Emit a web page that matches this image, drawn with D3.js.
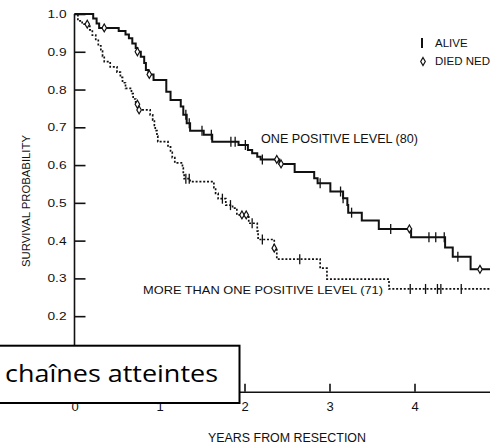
<!DOCTYPE html>
<html>
<head>
<meta charset="utf-8">
<script src="https://cdn.jsdelivr.net/npm/d3@7"></script>
<style>
  body { margin: 0; background: #fff; }
  svg { display: block; font-family: "Liberation Sans", Arial, sans-serif; }
  .axis path, .axis line { stroke: #111; stroke-width: 1.6; }
  .axis text { fill: #111; }
</style>
</head>
<body>
<svg width="490" height="446"></svg>
<script>
// ---- data ----
// Kaplan-Meier steps as [years, survival after the drop]
var oneLevelSteps = [[0.22,0.988],[0.26,0.975],[0.29,0.963],[0.52,0.955],[0.60,0.946],[0.64,0.936],
  [0.68,0.922],[0.72,0.910],[0.74,0.900],[0.78,0.887],[0.82,0.870],[0.84,0.852],[0.87,0.840],
  [0.93,0.825],[1.08,0.794],[1.13,0.772],[1.25,0.755],[1.28,0.733],[1.32,0.711],[1.36,0.691],
  [1.52,0.680],[1.62,0.662],[1.93,0.653],[2.04,0.640],[2.09,0.631],[2.15,0.622],[2.19,0.615],
  [2.41,0.603],[2.59,0.582],[2.82,0.565],[2.86,0.552],[3.01,0.530],[3.16,0.512],[3.21,0.494],
  [3.22,0.474],[3.38,0.453],[3.58,0.431],[3.96,0.409],[4.36,0.382],[4.45,0.357],[4.66,0.324]];
var oneLevelAlive = [1.31, 1.35, 1.50, 1.61, 1.84, 1.89, 2.01, 2.21, 2.89, 3.13, 3.16, 3.26, 3.72, 4.17, 4.25, 4.35, 4.51];
var oneLevelDied = [0.35, 0.74, 0.88, 2.38, 2.43, 3.94, 4.77];

var multiLevelSteps = [[0.04,0.982],[0.09,0.973],[0.18,0.958],[0.21,0.944],[0.25,0.930],[0.28,0.916],
  [0.31,0.902],[0.33,0.888],[0.35,0.874],[0.42,0.860],[0.50,0.846],[0.54,0.832],[0.565,0.818],
  [0.60,0.803],[0.67,0.789],[0.69,0.775],[0.72,0.761],[0.75,0.746],[0.89,0.733],[0.92,0.719],
  [0.94,0.705],[0.95,0.691],[0.97,0.677],[0.98,0.662],[1.10,0.648],[1.13,0.634],[1.15,0.620],
  [1.18,0.606],[1.27,0.592],[1.28,0.578],[1.29,0.564],[1.36,0.556],[1.64,0.540],[1.66,0.525],
  [1.69,0.511],[1.78,0.494],[1.86,0.486],[1.91,0.468],[2.05,0.446],[2.15,0.425],[2.16,0.403],
  [2.35,0.380],[2.38,0.351],[2.89,0.327],[2.97,0.298],[3.70,0.272]];
var multiLevelAlive = [1.31, 1.35, 1.74, 1.835, 2.09, 2.21, 2.65, 3.95, 4.13, 4.27, 4.31, 4.55];
var multiLevelDied = [0.15, 0.74, 0.76, 1.97, 2.02, 2.35];

var followUpEnd = 4.9;
var xTicks = [0, 1, 2, 3, 4];
// 0.0 and 0.1 sit under the caption box, so only the visible ones are listed
var yTicks = [0.2, 0.3, 0.4, 0.5, 0.6, 0.7, 0.8, 0.9, 1.0];

// ---- layout ----
var svg = d3.select('svg');
var x0 = 74.5, yBottom = 391.7, yTop = 14;

var xScale = d3.scaleLinear().domain([0, 5]).range([x0, x0 + 85 * 5]);
var yScale = d3.scaleLinear().domain([0, 1]).range([yBottom, yTop]);

// axes with ticks pointing into the plot
var xAxis = d3.axisBottom(xScale).tickValues(xTicks).tickFormat(d3.format('d'))
  .tickSizeInner(-8).tickSizeOuter(0).tickPadding(10);
var yAxis = d3.axisLeft(yScale).tickValues(yTicks).tickFormat(d3.format('.1f'))
  .tickSizeInner(-11).tickSizeOuter(0).tickPadding(8);

svg.append('g')
  .attr('class', 'x axis')
  .attr('transform', 'translate(0,' + yBottom + ')')
  .call(xAxis)
  .selectAll('text').style('font-size', '13px');

svg.append('g')
  .attr('class', 'y axis')
  .attr('transform', 'translate(' + x0 + ',0)')
  .call(yAxis)
  .selectAll('text')
  .style('font-size', '11px')
  .attr('textLength', 19)
  .attr('lengthAdjust', 'spacingAndGlyphs');

// y axis line runs all the way down to 0
svg.select('.y.axis .domain').attr('d', 'M0,' + yBottom + 'V' + yTop);

// axis titles
svg.append('text')
  .attr('x', 287).attr('y', 441.5)
  .attr('text-anchor', 'middle')
  .attr('textLength', 158).attr('lengthAdjust', 'spacingAndGlyphs')
  .style('font-size', '12px').attr('fill', '#111')
  .text('YEARS FROM RESECTION');

svg.append('text')
  .attr('transform', 'translate(30,201)rotate(-90)')
  .attr('text-anchor', 'middle')
  .attr('textLength', 132).attr('lengthAdjust', 'spacingAndGlyphs')
  .style('font-size', '11px').attr('fill', '#111')
  .text('SURVIVAL PROBABILITY');

// ---- survival curves ----
function survivalAt(steps, t) {
  var s = 1;
  steps.forEach(function (d) { if (d[0] <= t) s = d[1]; });
  return s;
}

function curvePoints(steps) {
  var pts = [[0, 1]].concat(steps);
  pts.push([followUpEnd, steps[steps.length - 1][1]]);
  return pts;
}

var line = d3.line()
  .x(function (d) { return xScale(d[0]); })
  .y(function (d) { return yScale(d[1]); })
  .curve(d3.curveStepAfter);

var groups = [
  {steps: multiLevelSteps, alive: multiLevelAlive, died: multiLevelDied, width: 1.7, dash: '2,1.8'},
  {steps: oneLevelSteps, alive: oneLevelAlive, died: oneLevelDied, width: 2, dash: null}
];

groups.forEach(function (g) {
  svg.append('path')
    .datum(curvePoints(g.steps))
    .attr('d', line)
    .attr('fill', 'none')
    .attr('stroke', '#111')
    .attr('stroke-width', g.width)
    .attr('stroke-dasharray', g.dash);

  // censored, alive
  svg.selectAll(null)
    .data(g.alive)
    .enter()
    .append('line')
    .attr('x1', function (d) { return xScale(d); })
    .attr('x2', function (d) { return xScale(d); })
    .attr('y1', function (d) { return yScale(survivalAt(g.steps, d)) - 5; })
    .attr('y2', function (d) { return yScale(survivalAt(g.steps, d)) + 5; })
    .attr('stroke', '#111')
    .attr('stroke-width', 1.3);

  // died with no evidence of disease
  svg.selectAll(null)
    .data(g.died)
    .enter()
    .append('path')
    .attr('d', d3.symbol(d3.symbolDiamond).size(18))
    .attr('transform', function (d) {
      return 'translate(' + [xScale(d), yScale(survivalAt(g.steps, d))] + ')';
    })
    .attr('fill', '#fff')
    .attr('stroke', '#111')
    .attr('stroke-width', 1.2);
});

// curve labels
svg.append('text')
  .attr('x', 261).attr('y', 143.3)
  .attr('textLength', 157).attr('lengthAdjust', 'spacingAndGlyphs')
  .style('font-size', '12px').attr('fill', '#111')
  .text('ONE POSITIVE LEVEL (80)');

svg.append('text')
  .attr('x', 143).attr('y', 294)
  .attr('textLength', 240).attr('lengthAdjust', 'spacingAndGlyphs')
  .style('font-size', '11.5px').attr('fill', '#111')
  .text('MORE THAN ONE POSITIVE LEVEL (71)');

// legend
var legend = svg.append('g').attr('transform', 'translate(422,0)');
legend.append('line')
  .attr('x1', 0).attr('x2', 0).attr('y1', 38).attr('y2', 48)
  .attr('stroke', '#111').attr('stroke-width', 2);
legend.append('text')
  .attr('x', 13).attr('y', 46.8)
  .style('font-size', '11.5px').attr('fill', '#111')
  .text('ALIVE');
legend.append('path')
  .attr('d', d3.symbol(d3.symbolDiamond).size(18))
  .attr('transform', 'translate(1,61.5)')
  .attr('fill', '#fff').attr('stroke', '#111').attr('stroke-width', 1.2);
legend.append('text')
  .attr('x', 13).attr('y', 65.3)
  .style('font-size', '11.5px').attr('fill', '#111')
  .text('DIED NED');

// caption box laid over the bottom-left corner
svg.append('rect')
  .attr('x', -2).attr('y', 345.7)
  .attr('width', 241.5).attr('height', 57.3)
  .attr('fill', '#fff')
  .attr('stroke', '#000')
  .attr('stroke-width', 2);

svg.append('text')
  .attr('x', 5).attr('y', 381.5)
  .attr('textLength', 213).attr('lengthAdjust', 'spacingAndGlyphs')
  .style('font-family', '"Comic Sans MS", "Open Sans", sans-serif')
  .style('font-size', '24px').attr('fill', '#000')
  .text('chaînes atteintes');
</script>
</body>
</html>
